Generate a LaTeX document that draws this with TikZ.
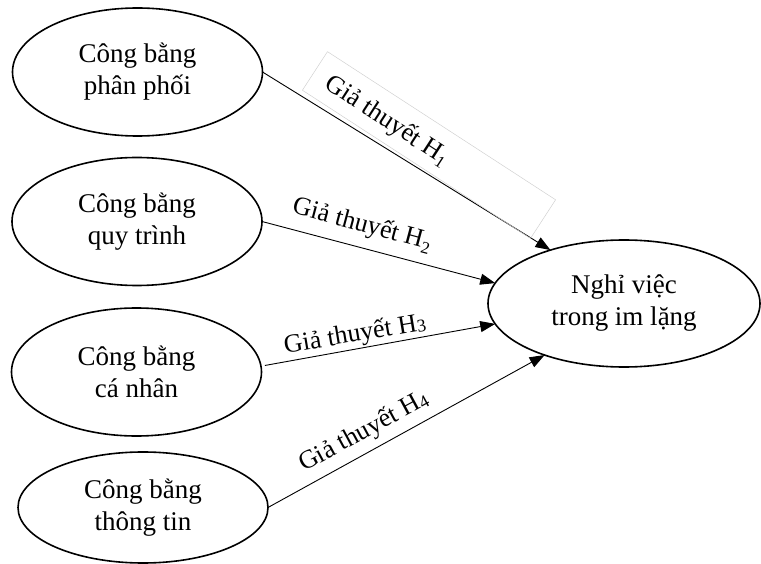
\documentclass[tikz,border=0pt]{standalone}
\usepackage{fontspec}
\setmainfont{Liberation Serif}
\usetikzlibrary{shapes.geometric, arrows.meta}

% lowered subscript (H1, H2) and small on-line digit (H3, H4)
\newcommand\hsubl[1]{\raisebox{-5pt}{\fontsize{17}{17}\selectfont #1}}
\newcommand\hsubs[1]{\raisebox{-1.5pt}{\fontsize{18}{18}\selectfont #1}}

\begin{document}
\begin{tikzpicture}[x=1pt,y=-1pt,
  concept/.style={ellipse, draw, line width=1.6pt, inner sep=0pt, outer sep=0pt,
    minimum width=250pt, minimum height=128pt, align=center,
    font=\fontsize{27}{32}\selectfont},
  link/.style={line width=0.9pt, -{Triangle[length=15pt,width=11pt]}},
  hyp/.style={font=\fontsize{26}{30}\selectfont, inner sep=0pt},
  hypframe/.style={draw=black!18, line width=0.5pt, inner sep=0pt}]
\useasboundingbox (0,0) rectangle (761,564);

% source constructs
\node[concept] (e1) at (137.5,72) {Công bằng\\phân phối};
\node[concept] (e2) at (137,221.5) {Công bằng\\quy trình};
\node[concept] (e3) at (136.5,372) {Công bằng\\cá nhân};
\node[concept, minimum height=111pt] (e4) at (143,507.5) {Công bằng\\thông tin};

% outcome
\node[concept, minimum width=272pt, minimum height=127pt] (r) at (624,303.5) {Nghỉ việc\\trong im lặng};

% hypotheses
\draw[link] (e1.east) -- (r.144);
\draw[link] (e2.east) -- (r.171);
\draw[link] ([xshift=4pt]e3.3) -- (r.189);
\draw[link] (e4.east) -- (r.213);

% hypothesis labels
\node[hypframe, rotate=-33, minimum width=272pt, minimum height=46pt] (h1frame) at (429,145) {};
\node[hyp, rotate=-33] (h1) at (387,121) {Giả thuyết H\hsubl{1}};
\node[hyp, rotate=-15] (h2) at (362,225) {Giả thuyết H\hsubl{2}};
\node[hyp, rotate=9.5] (h3) at (355,335) {Giả thuyết H\hsubs{3}};
\node[hyp, rotate=28.5] (h4) at (364,432) {Giả thuyết H\hsubs{4}};
\end{tikzpicture}
\end{document}
